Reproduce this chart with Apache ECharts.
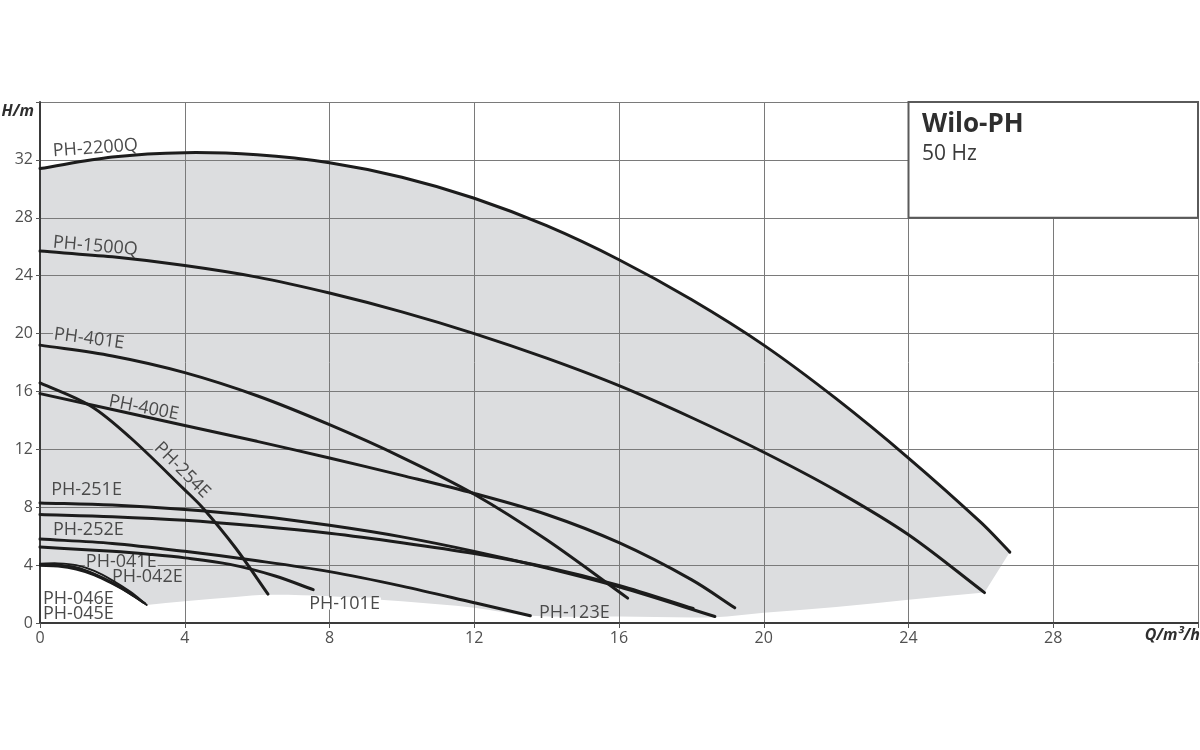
<!DOCTYPE html>
<html><head><meta charset="utf-8">
<script src="https://cdn.jsdelivr.net/npm/echarts@6/dist/echarts.min.js"></script>
<style>html,body{margin:0;padding:0;background:#fff}#c{width:1200px;height:750px}</style>
</head><body><div id="c"></div>
<script>
// ---- tick labels ----
const xTickLabels = ['0','4','8','12','16','20','24','28'];
const yTickLabels = ['0','4','8','12','16','20','24','28','32'];

// ---- pump curves [Q m3/h, H m] ----
const ph2200Q = [[0,31.4],[2,32.2],[4,32.5],[6,32.35],[8,31.8],[10,30.8],[12,29.35],[14,27.45],[16,25.1],[18,22.35],[20,19.2],[22,15.5],[24,11.4],[26,6.95],[26.8,4.9]];
const ph1500Q = [[0,25.7],[2,25.3],[4,24.7],[6,23.9],[8,22.8],[10,21.5],[12,20.0],[14,18.3],[16,16.4],[18,14.2],[20,11.8],[22,9.15],[24,6.1],[26.1,2.1]];
const ph401E = [[0,19.2],[2,18.45],[4,17.3],[6,15.7],[8,13.7],[10,11.45],[12,8.9],[14,5.75],[16.24,1.72]];
const ph400E = [[0,15.85],[2,14.75],[4,13.65],[6,12.55],[8,11.4],[10,10.2],[12,8.95],[14,7.5],[16,5.55],[18,3.0],[19.2,1.05]];
const ph254E = [[0,16.6],[1.4,15.0],[2.5,12.8],[4.0,9.2],[4.5,7.95],[5.4,5.2],[6.3,2.0]];
const ph251E = [[0,8.3],[2,8.15],[4,7.85],[6,7.4],[8,6.75],[10,5.95],[12,4.95],[14,3.8],[16,2.5],[18.65,0.45]];
const ph252E = [[0,7.5],[2,7.35],[4,7.1],[6,6.7],[8,6.2],[10,5.55],[12,4.8],[14,3.85],[16,2.6],[18.05,1.0]];
const ph123E = [[0,5.8],[2,5.5],[4,4.95],[6,4.3],[8,3.55],[10,2.55],[12,1.4],[13.55,0.5]];
const ph101E = [[0,5.25],[2,4.95],[3,4.75],[4,4.5],[5.25,4.05],[6.5,3.25],[7.55,2.3]];
const ph041E = [[0,4.1],[0.5,4.12],[1,4.0],[1.5,3.6],[2,2.95],[2.5,2.15],[2.95,1.25]];
const ph042E = [[0,4.05],[0.5,4.05],[1,3.85],[1.5,3.4],[2,2.8],[2.5,2.05],[2.9,1.35]];
const ph045E = [[0,3.95],[0.5,3.9],[1,3.7],[1.5,3.3],[2,2.7],[2.5,2.0],[2.85,1.4]];
const ph046E = [[0,4.0],[0.5,3.98],[1,3.78],[1.5,3.35],[2,2.75],[2.5,2.0],[2.9,1.35]];

// lower edge of the shaded operating field (right to left)
const fieldLower = [[26.1,2.1],[24,1.6],[22,1.1],[20,0.7],[18.65,0.4],[16,0.45],[13.55,0.5],[12,1.05],[10,1.5],[8,1.85],[6.3,1.95],[5.4,1.8],[4,1.5],[2.95,1.25]];

// curve labels: text, anchor (Q,H), rotation in degrees, background
const curveLabelText = ['PH-2200Q','PH-1500Q','PH-401E','PH-400E','PH-254E','PH-251E','PH-252E','PH-041E','PH-042E','PH-046E','PH-045E','PH-101E','PH-123E'];
const curveLabelQ    = [0.33, 0.33, 0.36, 1.88, 3.22, 0.28, 0.33, 1.24, 1.96, 0.055, 0.055, 7.41, 13.76];
const curveLabelH    = [32.6, 26.3, 19.97, 15.34, 12.34, 9.19, 6.43, 4.24, 3.22, 1.69, 0.66, 1.35, 0.73];
const curveLabelRot  = [4, -5, -7.5, -11, -45, 0, 0, 0, 0, 0, 0, 0, 0];
const curveLabelBg   = [null, null, 'g', null, 'g', null, null, 'g', null, null, null, 'w', null];

const curves = [ph2200Q, ph1500Q, ph401E, ph400E, ph254E, ph251E, ph252E, ph123E, ph101E, ph041E, ph042E, ph045E, ph046E];
const curveNames = ['PH-2200Q','PH-1500Q','PH-401E','PH-400E','PH-254E','PH-251E','PH-252E','PH-123E','PH-101E','PH-041E','PH-042E','PH-045E','PH-046E'];
const smallPumps = ['PH-041E','PH-042E','PH-045E','PH-046E'];

const GREY = '#dcdddf';
const FONT = '"Open Sans", "Noto Sans", sans-serif';

// chord-length Catmull-Rom -> cubic bezier segments (pixel points)
function crSegs(p){
  let s='';
  const dist=(a,b)=>Math.hypot(b[0]-a[0], b[1]-a[1]);
  for(let i=0;i<p.length-1;i++){
    const p0=p[i-1]||p[i], p1=p[i], p2=p[i+1], p3=p[i+2]||p2;
    const d01=dist(p0,p1), d12=dist(p1,p2), d23=dist(p2,p3);
    const k1 = d12/3/((d01+d12)||1), k2 = d12/3/((d12+d23)||1);
    const c1=[p1[0]+(p2[0]-p0[0])*k1, p1[1]+(p2[1]-p0[1])*k1];
    const c2=[p2[0]-(p3[0]-p1[0])*k2, p2[1]-(p3[1]-p1[1])*k2];
    s+=' C'+c1[0]+','+c1[1]+' '+c2[0]+','+c2[1]+' '+p2[0]+','+p2[1];
  }
  return s;
}

const chart = echarts.init(document.getElementById('c'), null, {renderer:'canvas'});

const series = [];
series.push({
  type:'custom', name:'field', z:0, silent:true,
  data:[[0,0]],
  renderItem:function(params, api){
    const up = ph2200Q.map(p=>api.coord(p));
    const lo = fieldLower.map(p=>api.coord(p));
    const sm = ph041E.slice().reverse().map(p=>api.coord(p));
    let d = 'M'+up[0][0]+','+up[0][1] + crSegs(up);
    d += ' L'+lo[0][0]+','+lo[0][1] + crSegs(lo);
    d += ' L'+sm[0][0]+','+sm[0][1] + crSegs(sm) + ' Z';
    return {type:'path', shape:{pathData:d}, style:{fill:GREY, stroke:null}};
  }
});
series.push({
  type:'custom', name:'labels', z:2, silent:true,
  data: curveLabelText.map((t,i)=>[curveLabelQ[i], curveLabelH[i]]),
  renderItem:function(params, api){
    const i = params.dataIndex;
    const pt = api.coord([curveLabelQ[i], curveLabelH[i]]);
    const bg = curveLabelBg[i]==='g' ? GREY : (curveLabelBg[i]==='w' ? '#fff' : null);
    return {type:'text', x:pt[0], y:pt[1], rotation: curveLabelRot[i]*Math.PI/180,
      style:{text:curveLabelText[i], fill:'#4a4a4a', fontSize:18, fontFamily:FONT,
        align:'left', verticalAlign:'middle', lineHeight:12,
        backgroundColor: bg, padding:[0,1]}};
  }
});
curves.forEach((c,i)=>{
  const small = smallPumps.indexOf(curveNames[i])>=0;
  series.push({
    type:'custom', name:curveNames[i], z:3, silent:true,
    data:[c[0]],
    renderItem:function(params, api){
      const px = c.map(p=>api.coord(p));
      const d = 'M'+px[0][0]+','+px[0][1] + crSegs(px);
      return {type:'path', shape:{pathData:d},
        style:{fill:null, stroke:'#1c1c1c', lineWidth: small ? 2 : 3, lineCap:'round', lineJoin:'round'}};
    }
  });
});
series.push({
  type:'custom', name:'box', z:4, silent:true,
  data:[[24,36]],
  renderItem:function(params, api){
    const a = api.coord([24,36]), b = api.coord([32,28]);
    return {type:'rect', shape:{x:a[0], y:a[1], width:b[0]-a[0], height:b[1]-a[1]},
      style:{fill:'#fff', stroke:'#5a5a5a', lineWidth:2}};
  }
});

chart.setOption({
  animation:false,
  backgroundColor:'#fff',
  grid:{left:40, right:2, top:102, bottom:127, outerBoundsMode:'none'},
  xAxis:{type:'value', min:0, max:32, interval:4, z:1,
    axisLine:{show:true, lineStyle:{color:'#3a3a3a', width:2}},
    axisTick:{show:true, length:5, lineStyle:{color:'#555', width:1}},
    axisLabel:{color:'#505050', fontSize:16, fontFamily:FONT, margin:7,
      formatter:v=>xTickLabels[Math.round(v/4)]||''},
    splitLine:{show:true, lineStyle:{color:'#7a7a7a', width:1}}},
  yAxis:{type:'value', min:0, max:36, interval:4, z:1,
    axisLine:{show:true, lineStyle:{color:'#3a3a3a', width:2}},
    axisTick:{show:true, length:4, lineStyle:{color:'#555', width:1}},
    axisLabel:{color:'#505050', fontSize:16, fontFamily:FONT, margin:7,
      formatter:v=>yTickLabels[Math.round(v/4)]||''},
    splitLine:{show:true, lineStyle:{color:'#7a7a7a', width:1}}},
  graphic:[
    {type:'text', z:10, left:922, top:112, style:{text:'Wilo-PH', fill:'#2e2e2e', font:'bold 26px '+FONT}},
    {type:'text', z:10, left:922, top:144, style:{text:'50 Hz', fill:'#3a3a3a', font:'21px '+FONT}},
    {type:'text', z:10, right:1200-34, top:103, style:{text:'H/m', fill:'#2e2e2e', font:'italic bold 16px '+FONT, align:'right'}},
    {type:'text', z:10, right:0, top:627, style:{text:'Q/m³/h', fill:'#2e2e2e', font:'italic bold 16px '+FONT, align:'right'}}
  ],
  series: series
});
</script></body></html>
